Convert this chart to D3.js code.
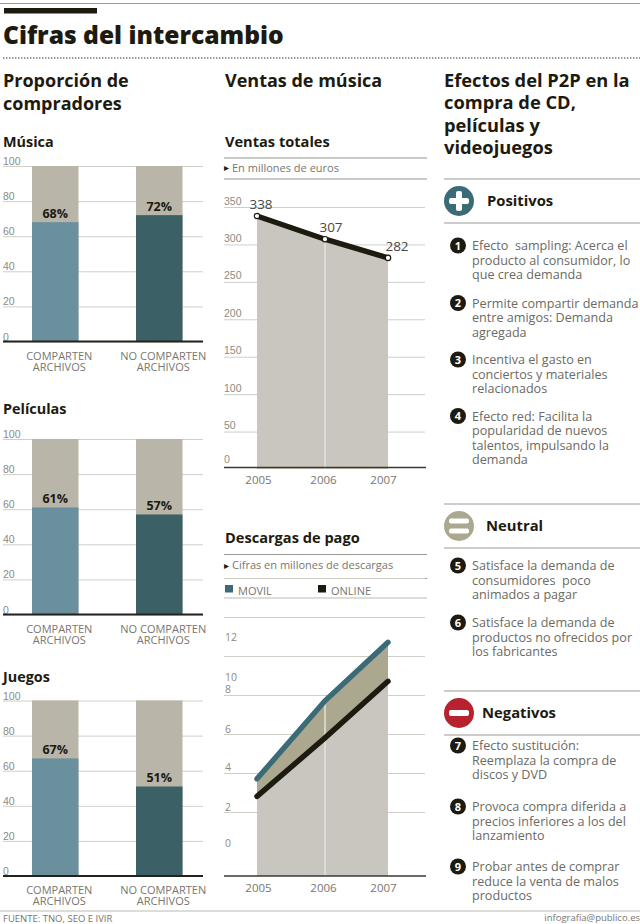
<!DOCTYPE html>
<html>
<head>
<meta charset="utf-8">
<script src="https://cdn.jsdelivr.net/npm/d3@7"></script>
<style>
  html, body { margin: 0; padding: 0; background: #fff; }
  svg { display: block; font-family: "Open Sans", sans-serif; }
  text { white-space: pre; }
  .head { font-weight: 700; fill: #1d1a10; }
  .tick-label { font-size: 10.5px; fill: #8c8b82; }
  .body { font-size: 12.6px; fill: #6b6a64; }
</style>
</head>
<body>
<script>
const barCategories = [['COMPARTEN', 'ARCHIVOS'], ['NO COMPARTEN', 'ARCHIVOS']];
const barTicks = [0, 20, 40, 60, 80, 100];
const musica = [68, 72];
const peliculas = [61, 57];
const juegos = [67, 51];

const years = [2005, 2006, 2007];
const ventasTicks = [0, 50, 100, 150, 200, 250, 300, 350];
const ventas = [338, 307, 282];

const descargasGrid = [2, 4, 6, 8, 10, 12, 14];
const descargasLabels = ['0', '2', '4', '6', '8', '10', '12'];
// the printed labels drift off their gridlines, so they get their own spot on the value scale
const descargasLabelAt = [0.4, 2.25, 4.3, 6.25, 8.3, 8.9, 10.95];
const movil = [3.7, 7.7, 10.7];
const online = [2.8, 5.8, 8.7];

const positivos = [
  ['Efecto  sampling: Acerca el', 'producto al consumidor, lo', 'que crea demanda'],
  ['Permite compartir demanda', 'entre amigos: Demanda', 'agregada'],
  ['Incentiva el gasto en', 'conciertos y materiales', 'relacionados'],
  ['Efecto red: Facilita la', 'popularidad de nuevos', 'talentos, impulsando la', 'demanda']
];
const neutral = [
  ['Satisface la demanda de', 'consumidores  poco', 'animados a pagar'],
  ['Satisface la demanda de', 'productos no ofrecidos por', 'los fabricantes']
];
const negativos = [
  ['Efecto sustitución:', 'Reemplaza la compra de', 'discos y DVD'],
  ['Provoca compra diferida a', 'precios inferiores a los del', 'lanzamiento'],
  ['Probar antes de comprar', 'reduce la venta de malos', 'productos']
];

const svg = d3.select('body').append('svg').attr('width', 640).attr('height', 924);

const ink = '#1d1a10';
const gridColor = '#cfcfc8';

function label(x, y, str, cls, size, fill, anchor) {
  const t = svg.append('text').attr('x', x).attr('y', y).text(str);
  if (cls) t.attr('class', cls);
  if (size) t.style('font-size', size + 'px');
  if (fill) t.style('fill', fill);
  if (anchor) t.attr('text-anchor', anchor);
  return t;
}

function rule(x1, x2, y, color, width, dash) {
  svg.append('line').attr('x1', x1).attr('x2', x2).attr('y1', y).attr('y2', y)
    .attr('stroke', color).attr('stroke-width', width || 1)
    .attr('stroke-dasharray', dash || null);
}

// header
rule(0, 640, 3.5, '#9a9a94', 1);
svg.append('rect').attr('x', 4).attr('y', 8).attr('width', 93).attr('height', 5.5).attr('fill', ink);
label(3, 44, 'Cifras del intercambio', 'head', 24.6).style('font-weight', 800);
rule(3, 640, 58, '#77766f', 1.4, '1.4 1.6');

label(3, 87, 'Proporción de', 'head', 18);
label(3, 110, 'compradores', 'head', 18);
label(225, 87, 'Ventas de música', 'head', 18);
['Efectos del P2P en la', 'compra de CD,', 'películas y', 'videojuegos'].forEach((s, i) => {
  label(444, 87 + i * 22.3, s, 'head', 18.3);
});

// stacked percentage bars
function barChart(title, titleY, top, values) {
  label(3, titleY, title, 'head', 14.4);
  const y = d3.scaleLinear().domain([0, 100]).range([top + 175.5, top]);
  const x = d3.scaleBand().domain(d3.range(values.length)).range([32, 182.5]).paddingInner(0.553);

  const axis = svg.append('g').attr('transform', 'translate(203,0)')
    .call(d3.axisLeft(y).tickValues(barTicks).tickSize(200).tickPadding(0));
  axis.select('.domain').remove();
  axis.selectAll('.tick line').attr('stroke', gridColor);
  axis.selectAll('.tick text').attr('class', 'tick-label')
    .attr('x', -200).attr('dy', -1.5).attr('text-anchor', 'start');

  const g = svg.append('g');
  g.selectAll('.bg').data(values).join('rect').attr('class', 'bg')
    .attr('x', (d, i) => x(i)).attr('width', x.bandwidth())
    .attr('y', y(100)).attr('height', y(0) - y(100)).attr('fill', '#b9b6a9');
  g.selectAll('.fg').data(values).join('rect').attr('class', 'fg')
    .attr('x', (d, i) => x(i)).attr('width', x.bandwidth())
    .attr('y', d => y(d)).attr('height', d => y(0) - y(d))
    .attr('fill', (d, i) => i === 0 ? '#6a909e' : '#3b6166');
  g.selectAll('.val').data(values).join('text').attr('class', 'val')
    .attr('x', (d, i) => x(i) + x.bandwidth() / 2).attr('y', d => y(d) - 4)
    .attr('text-anchor', 'middle').style('font-size', '12.5px').style('font-weight', 700).style('fill', ink)
    .text(d => d + '%');

  rule(3, 203, y(0), '#24221a', 2);

  barCategories.forEach((lines, i) => {
    lines.forEach((s, j) => {
      label(x(i) + x.bandwidth() / 2 + 4, y(0) + 18 + j * 11.3, s, null, 11, '#77766f', 'middle');
    });
  });
}

barChart('Música', 147, 166, musica);
barChart('Películas', 414, 439, peliculas);
barChart('Juegos', 682, 700.5, juegos);

// shared year scale of the two middle charts
const xYearMid = d3.scaleLinear().domain(years).range([257, 325, 388]);

function yearAxis(yPos) {
  const axis = svg.append('g').attr('transform', `translate(0,${yPos})`)
    .call(d3.axisBottom(xYearMid).tickValues(years).tickSize(0).tickPadding(8).tickFormat(d3.format('d')));
  axis.select('.domain').remove();
  axis.selectAll('.tick text')
    .attr('dx', d => [1, -2, -5][years.indexOf(d)])
    .style('font-size', '11.5px').style('fill', '#77766f').style('font-family', '"Open Sans", sans-serif');
  rule(224, 426, yPos, '#3a382f', 1.6);
}

// ventas totales
label(225, 147, 'Ventas totales', 'head', 14.6);
rule(224, 427, 158, '#b9b9b2', 1.4);
rule(224, 427, 179, '#b9b9b2', 1.4);
label(224, 171, '▸', null, 10, ink);
label(232, 171.5, 'En millones de euros', null, 11, '#77766f');

const yVentas = d3.scaleLinear().domain([0, 350]).range([469, 207]);
const ventasAxis = svg.append('g').attr('transform', 'translate(425,0)')
  .call(d3.axisLeft(yVentas).tickValues(ventasTicks.slice(1)).tickSize(201).tickPadding(0));
ventasAxis.select('.domain').remove();
ventasAxis.selectAll('.tick line').attr('stroke', gridColor);
ventasAxis.selectAll('.tick text').attr('class', 'tick-label')
  .attr('x', -201).attr('dy', -3).attr('text-anchor', 'start');
label(224, yVentas(0) - 6, '0', 'tick-label');

const ventasArea = d3.area().x((d, i) => xYearMid(years[i])).y0(yVentas(0)).y1(d => yVentas(d));
const ventasLine = d3.line().x((d, i) => xYearMid(years[i])).y(d => yVentas(d));
svg.append('path').attr('d', ventasArea(ventas)).attr('fill', '#c8c6be');
svg.append('line').attr('x1', xYearMid(2006)).attr('x2', xYearMid(2006))
  .attr('y1', yVentas(ventas[1])).attr('y2', yVentas(0)).attr('stroke', '#e6e5e0').attr('stroke-width', 1.4);
svg.append('path').attr('d', ventasLine(ventas)).attr('fill', 'none').attr('stroke', ink).attr('stroke-width', 5.4);
svg.selectAll('.vpoint').data(ventas).join('circle').attr('class', 'vpoint')
  .attr('cx', (d, i) => xYearMid(years[i])).attr('cy', d => yVentas(d)).attr('r', 2.7)
  .attr('fill', '#fff').attr('stroke', ink).attr('stroke-width', 1.2);
svg.selectAll('.vlabel').data(ventas).join('text').attr('class', 'vlabel')
  .attr('x', (d, i) => xYearMid(years[i]) + [4, 6, 9][i]).attr('y', d => yVentas(d) - 7)
  .attr('text-anchor', 'middle').style('font-size', '13.5px').style('fill', '#4a4942').text(d => d);
yearAxis(467.5);

// descargas de pago
label(225, 543, 'Descargas de pago', 'head', 14.6);
rule(224, 427, 554.5, '#9a9a94', 1);
rule(224, 427, 578.5, '#9a9a94', 1);
rule(224, 427, 598, '#b9b9b2', 1);
label(224, 569, '▸', null, 10, ink);
label(232, 569, 'Cifras en millones de descargas', null, 11, '#77766f');
svg.append('rect').attr('x', 225).attr('y', 585).attr('width', 8).attr('height', 7.5).attr('fill', '#3b6b76');
label(238, 595, 'MOVIL', null, 11, '#77766f');
svg.append('rect').attr('x', 318).attr('y', 585).attr('width', 8).attr('height', 7.5).attr('fill', ink);
label(331, 595, 'ONLINE', null, 11, '#77766f');

const yDesc = d3.scaleLinear().domain([0, 12]).range([851, 617]);
const descAxis = svg.append('g').attr('transform', 'translate(425,0)')
  .call(d3.axisLeft(yDesc).tickValues(descargasGrid).tickSize(201).tickFormat(''));
descAxis.select('.domain').remove();
descAxis.selectAll('.tick line').attr('stroke', gridColor);
svg.selectAll('.dlabel').data(descargasLabels).join('text').attr('class', 'dlabel tick-label')
  .attr('x', 225).attr('y', (d, i) => yDesc(descargasLabelAt[i])).attr('dy', '0.35em').text(d => d);

const base = yDesc.invert(876);
const xd = (d, i) => xYearMid(years[i]);
svg.append('path')
  .attr('d', d3.area().x(xd).y0(yDesc(base)).y1(d => yDesc(d))(online))
  .attr('fill', '#c8c6be');
svg.append('path')
  .attr('d', d3.area().x(xd).y0((d, i) => yDesc(online[i])).y1(d => yDesc(d))(movil))
  .attr('fill', '#aca88f');
svg.append('line').attr('x1', xYearMid(2006)).attr('x2', xYearMid(2006))
  .attr('y1', yDesc(movil[1])).attr('y2', 876).attr('stroke', '#e6e5e0').attr('stroke-width', 1.4);
svg.append('path').attr('d', d3.line().x(xd).y(d => yDesc(d))(movil))
  .attr('fill', 'none').attr('stroke', '#3b6b76').attr('stroke-width', 5.4).attr('stroke-linecap', 'round');
svg.append('path').attr('d', d3.line().x(xd).y(d => yDesc(d))(online))
  .attr('fill', 'none').attr('stroke', ink).attr('stroke-width', 5.4).attr('stroke-linecap', 'round');
yearAxis(876);

// efectos column
function effectBlock(top, title, titleX, color, bars, items, rows) {
  rule(444, 640, top, '#9a9a94', 1);
  rule(444, 640, top + 44, '#9a9a94', 1);
  svg.append('circle').attr('cx', 459).attr('cy', top + 22).attr('r', 15).attr('fill', color);
  bars.forEach(b => {
    svg.append('rect').attr('x', 459 - b[0] / 2).attr('y', top + 22 + b[1] - b[2] / 2)
      .attr('width', b[0]).attr('height', b[2]).attr('rx', 2).attr('fill', '#fff');
  });
  label(titleX, top + 27, title, 'head', 14.8);
  items.forEach((lines, i) => {
    const y0 = rows[i].y;
    svg.append('circle').attr('cx', 458).attr('cy', y0).attr('r', 8).attr('fill', ink);
    label(458, y0 + 4, String(rows[i].n), null, 11, '#fff', 'middle').style('font-weight', 700);
    lines.forEach((s, j) => label(472, y0 + 4.5 + j * 14.6, s, 'body'));
  });
}

effectBlock(179, 'Positivos', 487, '#3b6b76', [[20, 0, 6], [6, 0, 20]], positivos,
  [{ n: 1, y: 245.5 }, { n: 2, y: 303 }, { n: 3, y: 359.5 }, { n: 4, y: 416 }]);
effectBlock(504, 'Neutral', 486, '#aca88f', [[20, -5, 5], [20, 5, 5]], neutral,
  [{ n: 5, y: 565.5 }, { n: 6, y: 622.5 }]);
effectBlock(691, 'Negativos', 482, '#b8222f', [[20, 0, 6]], negativos,
  [{ n: 7, y: 745.5 }, { n: 8, y: 806.5 }, { n: 9, y: 866.5 }]);

// footer
rule(0, 640, 911, '#b9b9b2', 1);
label(3, 922, 'FUENTE: TNO, SEO E IVIR', null, 9.5, '#77766f');
label(640, 921, 'infografía@publico.es', null, 9.5, '#77766f', 'end');
</script>
</body>
</html>
